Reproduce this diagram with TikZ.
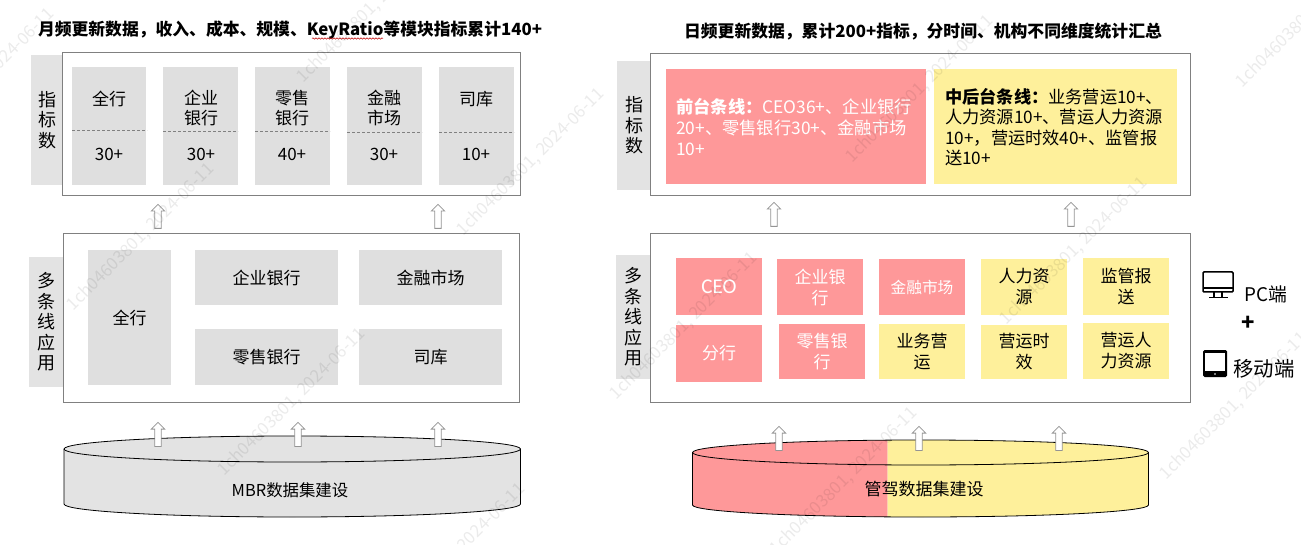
\documentclass[tikz,border=0pt]{standalone}
\usepackage{fontspec}
\setmainfont{Noto Sans CJK SC}
\newfontfamily\lat{Carlito}
\usetikzlibrary{shapes.arrows,decorations.pathmorphing}
\definecolor{cellgrey}{HTML}{DFDFDF}
\definecolor{labgrey}{HTML}{E3E3E3}
\definecolor{boxline}{HTML}{808080}
\definecolor{pinkc}{HTML}{FE9899}
\definecolor{yellowc}{HTML}{FEF09B}
\tikzset{
  panel/.style={draw=boxline,line width=0.9pt,fill=white,inner sep=0pt},
  greycell/.style={fill=cellgrey,inner sep=0pt,text=black,font=\fontsize{17}{21}\selectfont,align=center},
  pinkcell/.style={fill=pinkc,inner sep=0pt,text=white,font=\fontsize{17}{21}\selectfont,align=center},
  yellowcell/.style={fill=yellowc,inner sep=0pt,text=black,font=\fontsize{17}{21}\selectfont,align=center},
  sidelabel/.style={fill=labgrey,inner sep=0pt,font=\fontsize{18}{20.5}\selectfont,align=center},
  txt/.style={inner sep=0pt,font=\fontsize{17}{20}\selectfont,align=center},
  headline/.style={inner sep=0pt,font=\fontsize{16.8}{20}\selectfont\bfseries},
  uparrow/.style={single arrow,shape border rotate=90,draw=black!42,fill=white,line width=0.8pt,
    minimum height=24pt,minimum width=13pt,single arrow head extend=3.5pt,inner sep=2.8pt},
  divider/.style={draw=black!50,line width=0.6pt,densely dashed},
  watermark/.style={inner sep=0pt,anchor=west,rotate=45,text=black,opacity=0.08,font=\fontsize{17}{20}\selectfont},
}
\newcommand\cellbox[7]{\node[#6,minimum width={(#4-#2)*1pt},minimum height={(#5-#3)*1pt}] (#1) at ({(#2+#4)/2},{(#3+#5)/2}) {#7};}
\begin{document}
\begin{tikzpicture}[x=1pt,y=-1pt]
\useasboundingbox (0,0) rectangle (1301,545);
% left side labels and panels
\cellbox{lbl1}{31}{55}{63}{185}{sidelabel}{指\\标\\数}
\cellbox{lbl2}{29}{257}{63}{387}{sidelabel}{多\\条\\线\\应\\用}
\cellbox{lp1}{62.5}{52.5}{520.5}{195.5}{panel}{}
\cellbox{lp2}{63}{233.5}{519.5}{402.5}{panel}{}
\node[headline] (lt) at (290,30.5) {月频更新数据，收入、成本、规模、KeyRatio等模块指标累计140+};
\coordinate (sqa) at (312,38.5); \coordinate (sqb) at (383,38.5);
\draw[red!75!black,line width=0.5pt,decorate,decoration={snake,amplitude=0.7pt,segment length=3pt}] (sqa) -- (sqb);
% left metric cells
\cellbox{a1}{72}{67}{146}{185}{greycell}{}
\cellbox{a2}{163}{67}{238}{185}{greycell}{}
\cellbox{a3}{255}{67}{330}{185}{greycell}{}
\cellbox{a4}{347}{67}{422}{185}{greycell}{}
\cellbox{a5}{439}{67}{514}{185}{greycell}{}
\coordinate (d1a) at (72,130.5); \coordinate (d1b) at (147,130.5);
\coordinate (d2a) at (163,131.5); \coordinate (d2b) at (238,131.5);
\coordinate (d3a) at (255,131.5); \coordinate (d3b) at (330,131.5);
\coordinate (d4a) at (347,132.5); \coordinate (d4b) at (422,132.5);
\coordinate (d5a) at (439,132.5); \coordinate (d5b) at (514,132.5);
\foreach \i in {1,...,5}{\draw[divider] (d\i a) -- (d\i b);}
\node[txt] (a1t) at (109,99) {全行};
\node[txt] (a2t) at (201,108) {企业\\银行};
\node[txt] (a3t) at (292,108) {零售\\银行};
\node[txt] (a4t) at (384,108) {金融\\市场};
\node[txt] (a5t) at (476,99) {司库};
\node[txt] (a1n) at (109,154) {30+};
\node[txt] (a2n) at (201,154) {30+};
\node[txt] (a3n) at (292,154) {40+};
\node[txt] (a4n) at (384,154) {30+};
\node[txt] (a5n) at (476,154) {10+};
% left application cells
\cellbox{b1}{88}{250}{171}{385}{greycell}{全行}
\cellbox{b2}{195}{250}{338}{305}{greycell}{企业银行}
\cellbox{b3}{195}{329}{338}{385}{greycell}{零售银行}
\cellbox{b4}{359}{250}{502}{305}{greycell}{金融市场}
\cellbox{b5}{359}{329}{502}{385}{greycell}{司库}
% left cylinder
\filldraw[fill=labgrey,draw=black,line width=0.8pt] (64,449) -- (64,504) arc[start angle=180,end angle=0,x radius=228.25,y radius=13] -- (520.5,449) arc[start angle=0,end angle=-180,x radius=228.25,y radius=13] -- cycle;
\draw[line width=0.8pt] (64,449) arc[start angle=180,end angle=0,x radius=228.25,y radius=13];
\node[txt,font=\fontsize{16.4}{20}\selectfont] (lc) at (290,490) {MBR数据集建设};
% left arrows
\node[uparrow] (la1) at (158,218) {};
\node[uparrow] (la2) at (438,218) {};
\node[uparrow] (la3) at (158,436) {};
\node[uparrow] (la4) at (298,436) {};
\node[uparrow] (la5) at (438,436) {};
% right panels
\cellbox{rl1}{617}{61}{651}{190}{sidelabel}{指\\标\\数}
\cellbox{rl2}{616}{255}{651}{379}{sidelabel}{多\\条\\线\\应\\用}
\cellbox{rp1}{650.5}{53}{1190.5}{195}{panel}{}
\cellbox{rp2}{650.5}{233.5}{1190.5}{402.5}{panel}{}
\node[headline] (rt) at (923,31.5) {日频更新数据，累计200+指标，分时间、机构不同维度统计汇总};
\cellbox{f1}{666}{69}{926}{184}{pinkcell}{}
\cellbox{f2}{934}{69}{1177}{184}{yellowcell}{}
\node[txt,align=left,anchor=west,text=white,font=\fontsize{17.3}{21}\selectfont] (f1t) at (676,127) {\textbf{前台条线：}CEO36+、企业银行\\20+、零售银行30+、金融市场\\10+};
\node[txt,align=left,anchor=west,font=\fontsize{17.2}{20.5}\selectfont] (f2t) at (945,127) {\textbf{中后台条线：}业务营运10+、\\人力资源10+、营运人力资源\\10+，营运时效40+、监管报\\送10+};
% right application cells
\cellbox{c1}{676}{258}{762}{315}{pinkcell}{\fontsize{21}{21}\selectfont\lat CEO}
\cellbox{c2}{777}{259}{863}{315}{pinkcell}{企业银\\行}
\cellbox{c3}{879}{259}{965}{315}{pinkcell}{\fontsize{15.7}{18}\selectfont 金融市场}
\cellbox{c4}{981}{259}{1067}{315}{yellowcell}{人力资\\源}
\cellbox{c5}{1083}{258}{1169}{315}{yellowcell}{监管报\\送}
\cellbox{c6}{676}{325}{762}{382}{pinkcell}{分行}
\cellbox{c7}{779}{324}{865}{379}{pinkcell}{零售银\\行}
\cellbox{c8}{879}{324}{965}{379}{yellowcell}{业务营\\运}
\cellbox{c9}{981}{325}{1067}{379}{yellowcell}{营运时\\效}
\cellbox{c10}{1083}{323}{1169}{379}{yellowcell}{营运人\\力资源}
% right cylinder
\begin{scope}
\clip (680,420) rectangle (887.5,530);
\fill[pinkc] (692.5,452.5) -- (692.5,505) arc[start angle=180,end angle=0,x radius=228,y radius=12] -- (1148.5,452.5) arc[start angle=0,end angle=-180,x radius=228,y radius=12.5] -- cycle;
\end{scope}
\begin{scope}
\clip (887.5,420) rectangle (1160,530);
\fill[yellowc] (692.5,452.5) -- (692.5,505) arc[start angle=180,end angle=0,x radius=228,y radius=12] -- (1148.5,452.5) arc[start angle=0,end angle=-180,x radius=228,y radius=12.5] -- cycle;
\end{scope}
\draw[line width=0.8pt] (692.5,452.5) -- (692.5,505) arc[start angle=180,end angle=0,x radius=228,y radius=12] -- (1148.5,452.5) arc[start angle=0,end angle=-180,x radius=228,y radius=12.5] -- cycle;
\draw[line width=0.8pt] (692.5,452.5) arc[start angle=180,end angle=0,x radius=228,y radius=12.5];
\node[txt] (rc) at (924,489) {管驾数据集建设};
% right arrows
\node[uparrow] (ra1) at (774,216) {};
\node[uparrow] (ra2) at (1071,216) {};
\node[uparrow] (ra3) at (779,440) {};
\node[uparrow] (ra4) at (919,440) {};
\node[uparrow] (ra5) at (1059,440) {};
% devices
\draw[line width=1.5pt,rounded corners=1pt] (1203,272) rectangle (1233,292);
\draw[line width=1.5pt] (1203,288) -- (1233,288);
\draw[line width=1.5pt] (1214,292) -- (1214,297) (1222,292) -- (1222,297) (1209,297.5) -- (1228,297.5);
\fill[rounded corners=1.5pt] (1203,350) rectangle (1227,377);
\fill[white] (1205,352.5) rectangle (1225,371);
\fill[white] (1215,374) circle (0.8);
\node[txt,font=\fontsize{18.8}{20}\selectfont] (pc) at (1266,294) {PC端};
\node[txt,font=\fontsize{22}{24}\selectfont\bfseries] (plus) at (1248,323) {+};
\node[txt,font=\fontsize{20.4}{22}\selectfont] (mob) at (1264,369) {移动端};
% watermark
\begin{scope}
\clip (0,0) rectangle (1301,545);
\foreach \wx/\wy [count=\wn] in {-90/153,70/308,221/473,381/628,300/80,460/233,613/397,773/552,849/160,1003/322,1163/477,1239/85}{
  \node[watermark] (wm\wn) at (\wx,\wy) {1ch04603801, 2024-06-11};
}
\end{scope}
\end{tikzpicture}
\end{document}
